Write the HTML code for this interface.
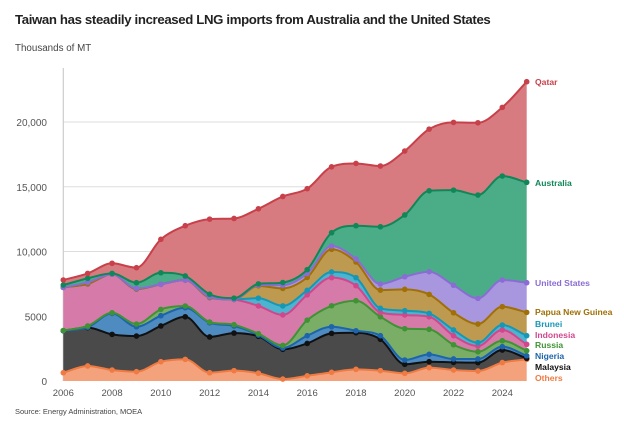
<!DOCTYPE html>
<html><head><meta charset="utf-8">
<style>
body{margin:0;background:#fff;width:624px;height:426px;overflow:hidden;font-family:"Liberation Sans",sans-serif;}
svg{display:block}
</style></head>
<body>
<svg id="chart" width="624" height="426" xmlns="http://www.w3.org/2000/svg">
<text x="15" y="24" font-size="13.2" font-weight="bold" letter-spacing="-0.35" fill="#222">Taiwan has steadily increased LNG imports from Australia and the United States</text>
<text x="15" y="51" font-size="9.8" fill="#444">Thousands of MT</text>
<text x="15" y="414" font-size="7.5" fill="#444">Source: Energy Administration, MOEA</text>
<g id="grid"></g><g id="areas"></g><g id="lines"></g><g id="labels"></g>
</svg>
<script>
const years=[2006,2007,2008,2009,2010,2011,2012,2013,2014,2015,2016,2017,2018,2019,2020,2021,2022,2023,2024,2025];
const others=[640,1160,850,720,1490,1670,640,800,600,150,400,670,900,800,590,1030,850,770,1420,1670];
const malaysia=[3240,2960,2750,2750,2760,3290,2760,2900,2850,2300,2500,3010,2830,2420,700,460,590,650,970,80];
const nigeria=[0,30,1620,720,790,700,1100,550,100,100,600,510,150,280,330,570,260,280,260,200];
const russia=[20,100,50,210,490,130,50,100,100,200,1200,1620,2320,1460,2420,1930,1100,560,460,390];
const indonesia=[3330,3250,2980,2700,1940,2010,1900,1950,2150,2350,1950,2170,1160,340,1060,970,700,440,830,490];
const brunei=[0,0,0,0,0,0,0,0,600,700,350,440,620,310,330,260,440,260,380,670];
const png=[0,0,0,0,0,0,0,0,950,1350,1000,1750,1210,1410,1650,1470,1330,1440,1420,1800];
const us=[0,120,0,50,0,0,50,0,50,250,300,250,230,470,970,1750,2120,1980,2060,2290];
const australia=[180,310,60,440,890,310,200,100,100,200,300,1030,2570,4420,4770,6250,7350,7980,8030,7750];
const qatar=[390,380,780,1160,2580,3880,5800,6150,5800,6650,6250,5090,4810,4690,4940,4760,5230,5580,5300,7770];
const yTicks=[0,5000,10000,15000,20000];
const yTickLabels=["0","5000","10,000","15,000","20,000"];
const xTicks=[2006,2008,2010,2012,2014,2016,2018,2020,2022,2024];

const series=[
 {name:"Others",v:others,line:"#ef7a42",fill:"#f4a27c",ly:378},
 {name:"Malaysia",v:malaysia,line:"#111",fill:"#4a4a4a",ly:367},
 {name:"Nigeria",v:nigeria,line:"#1c64ab",fill:"#4d8bc0",ly:356},
 {name:"Russia",v:russia,line:"#3f9335",fill:"#7aae66",ly:345},
 {name:"Indonesia",v:indonesia,line:"#d2468c",fill:"#d67ba9",ly:335},
 {name:"Brunei",v:brunei,line:"#1597b8",fill:"#4cb4cf",ly:324},
 {name:"Papua New Guinea",v:png,line:"#a06f06",fill:"#bd9a50",ly:312},
 {name:"United States",v:us,line:"#8a6cd4",fill:"#a897de",ly:283},
 {name:"Australia",v:australia,line:"#0f8759",fill:"#4bad87",ly:183},
 {name:"Qatar",v:qatar,line:"#c7404a",fill:"#d87b80",ly:82}
];
const x0=63.3,x1=526.7,yb=381,yt=122;
const X=yr=>x0+(yr-2006)*(x1-x0)/19;
const Y=v=>yb-v*(yb-yt)/20000;
const NS="http://www.w3.org/2000/svg";
function mk(tag,attrs,parent){const e=document.createElementNS(NS,tag);for(const k in attrs)e.setAttribute(k,attrs[k]);parent.appendChild(e);return e;}
const grid=document.getElementById('grid');
yTicks.forEach((t,i)=>{
 if(t>0){const l=mk('line',{x1:x0,x2:x1,y1:Y(t),y2:Y(t),stroke:'#ddd','stroke-width':1},grid);
 }
 const tx=mk('text',{x:47,y:Y(t)+4,'text-anchor':'end','font-size':10,fill:'#555'},grid);
 tx.textContent=yTickLabels[i];
 
});
const ax=mk('line',{x1:x0,x2:x0,y1:68,y2:yb,stroke:'#ccc','stroke-width':1.2},grid);

xTicks.forEach(yr=>{
 const tx=mk('text',{x:X(yr),y:396,'text-anchor':'middle','font-size':9.5,fill:'#555'},grid);
 tx.textContent=yr;
 
});
function mono(pts){
 const n=pts.length,d=[],m=[];
 for(let i=0;i<n-1;i++)d.push((pts[i+1][1]-pts[i][1])/(pts[i+1][0]-pts[i][0]));
 m[0]=d[0];m[n-1]=d[n-2];
 for(let i=1;i<n-1;i++){m[i]=(d[i-1]*d[i]<=0)?0:(d[i-1]+d[i])/2;
  const a=m[i]/d[i-1],b=m[i]/d[i];if(isFinite(a)&&isFinite(b)){const s=a*a+b*b;if(s>9){const t=3/Math.sqrt(s);m[i]=t*a*d[i-1];}}}
 let p='';
 for(let i=0;i<n-1;i++){const h=(pts[i+1][0]-pts[i][0])/3;
  p+=`C${pts[i][0]+h},${pts[i][1]+m[i]*h} ${pts[i+1][0]-h},${pts[i+1][1]-m[i+1]*h} ${pts[i+1][0]},${pts[i+1][1]}`;}
 return p;
}
const areas=document.getElementById('areas'),lines=document.getElementById('lines'),labels=document.getElementById('labels');
let base=years.map(()=>0);
series.forEach(s=>{
 const top=years.map((y,i)=>base[i]+s.v[i]);
 const tp=years.map((y,i)=>[X(y),Y(top[i])]);
 const bp=years.map((y,i)=>[X(y),Y(base[i])]).reverse();
 const a=mk('path',{d:`M${tp[0][0]},${tp[0][1]}`+mono(tp)+`L${bp[0][0]},${bp[0][1]}`+mono(bp)+'Z',fill:s.fill},areas);
 
 
 const g=mk('g',{},lines);
 
 
 const l=mk('path',{d:`M${tp[0][0]},${tp[0][1]}`+mono(tp),fill:'none',stroke:s.line,'stroke-width':2},g);
 
 tp.forEach(p=>{const c=mk('circle',{cx:p[0],cy:p[1],r:2.8,fill:s.line},g);
  });
 const t=mk('text',{x:535,y:s.ly+3,'font-size':8.6,'font-weight':'bold',fill:s.line},labels);
 t.textContent=s.name;
 
 base=top;
});
</script>
</body></html>
